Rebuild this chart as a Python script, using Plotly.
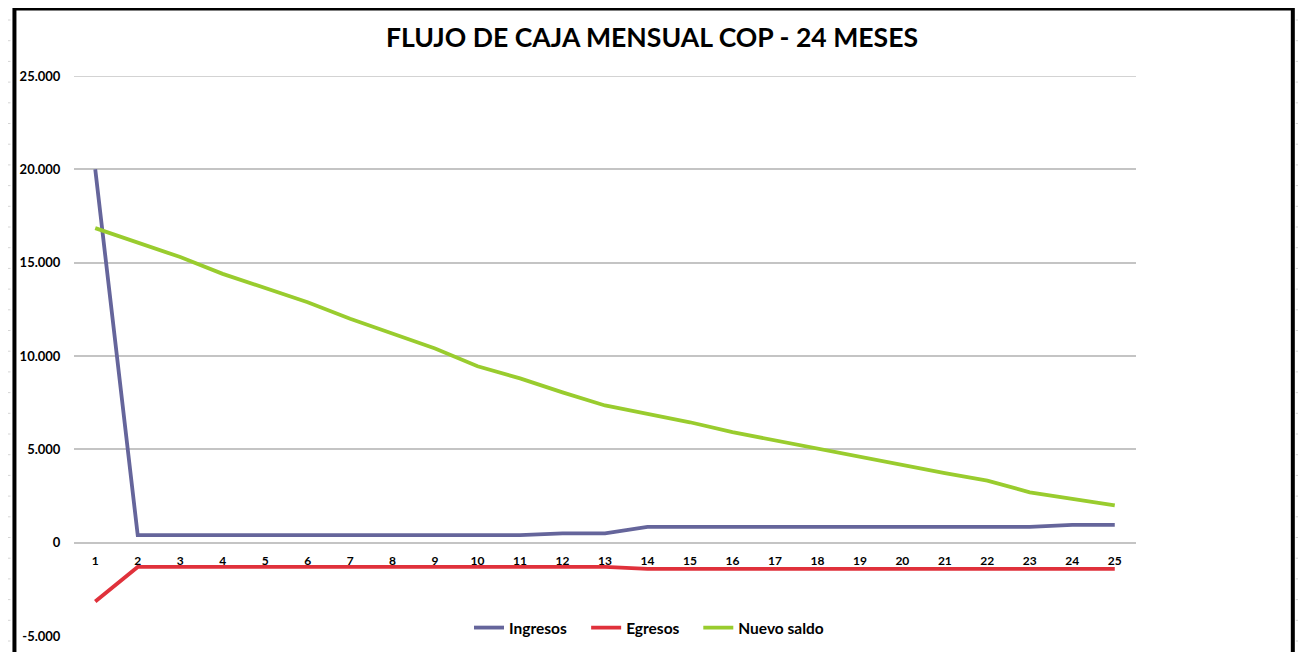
import plotly.graph_objects as go

meses = list(range(1, 26))
mes_labels = [str(m) for m in meses]

ingresos = [20000, 400, 400, 400, 400, 400, 400, 400, 400, 400, 400, 500, 500,
            850, 850, 850, 850, 850, 850, 850, 850, 850, 850, 950, 950]
egresos = [-3150, -1300, -1300, -1300, -1300, -1300, -1300, -1300, -1300, -1300, -1300, -1300, -1300,
           -1400, -1400, -1400, -1400, -1400, -1400, -1400, -1400, -1400, -1400, -1400, -1400]
nuevo_saldo = [16850, 16100, 15300, 14400, 13650, 12880, 12000, 11200, 10400, 9450, 8800, 8050, 7350,
               6900, 6450, 5920, 5470, 5040, 4580, 4160, 3720, 3320, 2700, 2340, 2000]

y_ticks = [-5000, 0, 5000, 10000, 15000, 20000, 25000]
y_labels = ["-5.000", "0", "5.000", "10.000", "15.000", "20.000", "25.000"]

FONT = "Lato"

fig = go.Figure()
fig.add_trace(go.Scatter(x=meses, y=ingresos, name="Ingresos", mode="lines",
                         line=dict(color="#65659B", width=3.8), legend="legend"))
fig.add_trace(go.Scatter(x=meses, y=egresos, name="Egresos", mode="lines",
                         line=dict(color="#E0313B", width=3.8), legend="legend2"))
fig.add_trace(go.Scatter(x=meses, y=nuevo_saldo, name="Nuevo saldo", mode="lines",
                         line=dict(color="#99CC2E", width=3.8), legend="legend3"))

# page offset compensation (figure is drawn shifted by the page body margin)
OX, OY = 12, 8
W, H = 1306, 652
L, R, T, B = 70 - OX, 1140 - OX, 76 - OY, 636 - OY


def px_x(p):
    return (p - OX - L) / (R - L)


def px_y(p):
    return (B - (p - OY)) / (B - T)


GRID = "#C4C4C4"
shapes = []
# spreadsheet cell borders outside the chart frame
for xv in [33, 161, 289, 417, 545, 673, 801, 929, 1057, 1185]:
    shapes.append(dict(type="line", xref="paper", yref="paper",
                       x0=px_x(xv), x1=px_x(xv), y0=px_y(0), y1=px_y(6),
                       line=dict(color="#D4D4D4", width=1)))
for i in range(32):
    yv = 20 + i * 20.7
    shapes.append(dict(type="line", xref="paper", yref="paper",
                       x0=px_x(0), x1=px_x(6), y0=px_y(yv), y1=px_y(yv),
                       line=dict(color="#D4D4D4", width=1)))
    shapes.append(dict(type="line", xref="paper", yref="paper",
                       x0=px_x(1301), x1=px_x(1306), y0=px_y(yv), y1=px_y(yv),
                       line=dict(color="#D4D4D4", width=1)))
# top gridline (at the edge of the value range)
shapes.append(dict(type="line", xref="paper", yref="y", x0=0, x1=1,
                   y0=y_ticks[-1], y1=y_ticks[-1], layer="below",
                   line=dict(color=GRID, width=1.6)))
# black chart border
shapes.append(dict(type="rect", xref="paper", yref="paper",
                   x0=px_x(10), x1=px_x(1298), y0=px_y(670), y1=px_y(8.5),
                   line=dict(color="#000000", width=4), fillcolor="rgba(0,0,0,0)",
                   layer="above"))


def legend_at(xpx):
    return dict(orientation="h", x=px_x(xpx), xanchor="left",
                y=px_y(628), yanchor="middle",
                font=dict(family=FONT, size=15.5, color="#000000", weight="bold"),
                bgcolor="rgba(0,0,0,0)", itemwidth=30)


fig.update_layout(
    width=W, height=H,
    margin=dict(l=L, r=W - R, t=T, b=H - B),
    paper_bgcolor="white", plot_bgcolor="white",
    font=dict(family=FONT, color="#000000"),
    title=dict(text="<b>FLUJO DE CAJA MENSUAL COP - 24 MESES</b>",
               x=644 / W, xref="container", xanchor="center",
               y=1 - (38 - OY) / H, yref="container", yanchor="middle",
               font=dict(family=FONT, size=26.6, color="#000000")),
    showlegend=True,
    legend=legend_at(468),
    legend2=legend_at(586),
    legend3=legend_at(699),
    shapes=shapes,
)

fig.update_xaxes(range=[0.5, 25.5], tickmode="array", tickvals=meses, ticktext=mes_labels,
                 anchor="free", position=1 / 6, showgrid=False, zeroline=False, showline=False,
                 ticks="outside", ticklen=7, tickcolor="rgba(0,0,0,0)",
                 tickfont=dict(family=FONT, size=12, color="#000000", weight="bold"),
                 fixedrange=True)
fig.update_yaxes(range=[-5000, 25000], tickmode="array", tickvals=y_ticks, ticktext=y_labels,
                 showgrid=True, gridcolor=GRID, gridwidth=1.6, zeroline=False,
                 showline=False, ticks="outside", ticklen=10, tickcolor="rgba(0,0,0,0)",
                 tickfont=dict(family=FONT, size=13, color="#000000", weight="bold"),
                 fixedrange=True)

fig.write_html("out.html")
